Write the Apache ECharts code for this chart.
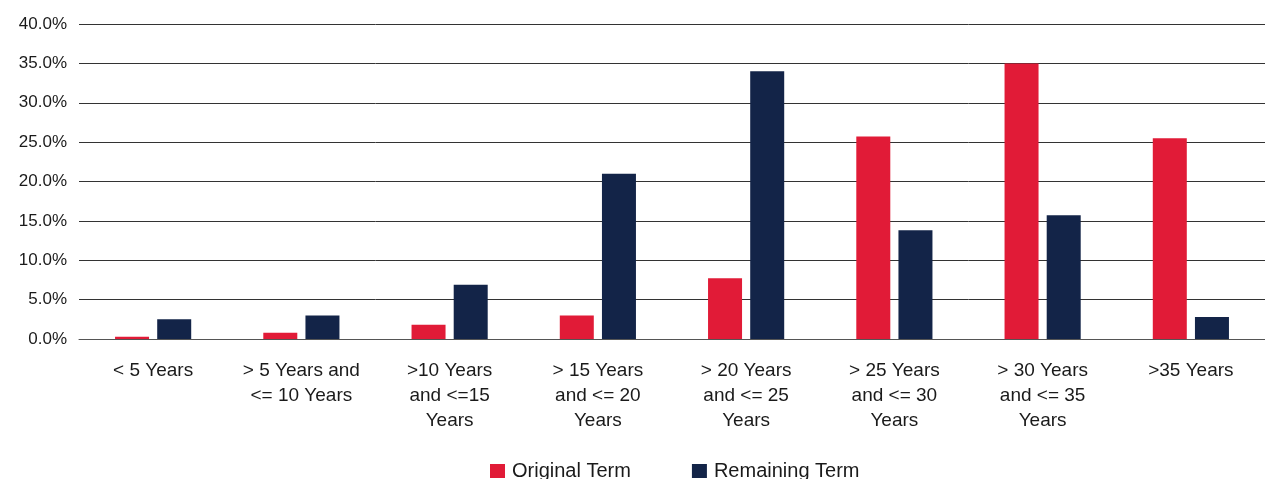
<!DOCTYPE html>
<html>
<head>
<meta charset="utf-8">
<script src="https://cdn.jsdelivr.net/npm/echarts@6/dist/echarts.min.js"></script>
<style>html,body{margin:0;padding:0;background:#fff;}#c{width:1265px;height:479px;}</style>
</head>
<body>
<div id="c"></div>
<script>
const categories = ["< 5 Years", "> 5 Years and\n<= 10 Years", ">10 Years\nand <=15\nYears", "> 15 Years\nand <= 20\nYears", "> 20 Years\nand <= 25\nYears", "> 25 Years\nand <= 30\nYears", "> 30 Years\nand <= 35\nYears", ">35 Years"];
const originalTerm = [0.3, 0.8, 1.8, 3.0, 7.7, 25.7, 35.0, 25.5];
const remainingTerm = [2.5, 3.0, 6.9, 21.0, 34.0, 13.8, 15.7, 2.8];
const seriesNames = ["Original Term", "Remaining Term"];

const chart = echarts.init(document.getElementById('c'), null, {renderer: 'canvas'});
const font = '"Liberation Sans", Arial, Helvetica, sans-serif';
chart.setOption({
  animation: false,
  textStyle: {fontFamily: font},
  grid: {left: 79, right: 0, top: 24, bottom: 140, containLabel: false},
  legend: {
    data: seriesNames,
    top: 456,
    left: 485,
    itemWidth: 15, itemHeight: 14, itemGap: 61,
    icon: 'rect',
    textStyle: {fontSize: 20, color: '#1a1a1a', fontFamily: font, padding: [0, 0, 0, 2]}
  },
  xAxis: {
    type: 'category',
    data: categories,
    axisLine: {show: true, lineStyle: {color: '#555', width: 1}},
    axisTick: {show: false},
    axisLabel: {interval: 0, fontSize: 19, color: '#1a1a1a', lineHeight: 25, margin: 19, fontFamily: font}
  },
  yAxis: {
    type: 'value',
    min: 0, max: 40, interval: 5,
    axisLine: {show: false},
    axisTick: {show: false},
    splitLine: {lineStyle: {color: '#333', width: 1}},
    axisLabel: {fontSize: 17, color: '#1a1a1a', margin: 12, fontFamily: font, formatter: v => v.toFixed(1) + '%'}
  },
  series: [
    {name: seriesNames[0], type: 'bar', data: originalTerm, barWidth: 34, barGap: '24%', itemStyle: {color: '#E11B37'}},
    {name: seriesNames[1], type: 'bar', data: remainingTerm, barWidth: 34, itemStyle: {color: '#132448'}}
  ]
});
</script>
</body>
</html>
